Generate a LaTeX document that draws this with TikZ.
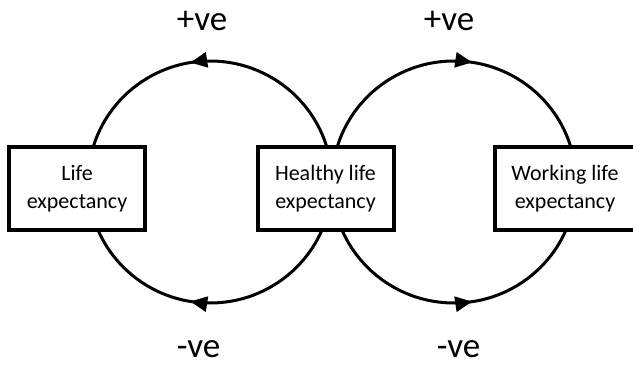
\documentclass[tikz,border=0pt]{standalone}
\usepackage{fontspec}
\setmainfont{Carlito}
\usetikzlibrary{arrows.meta,decorations.markings}
\tikzset{
  box/.style={draw, line width=4pt, fill=white, minimum width=136pt, minimum height=83pt,
    inner sep=0pt, align=center, font=\fontsize{22}{28}\selectfont},
  feedback/.style={line width=3pt},
  head/.tip={Triangle[length=17pt,width=15pt]},
  signlabel/.style={anchor=base, inner sep=0pt, text depth=0pt, font=\fontsize{35}{35}\selectfont},
}
\begin{document}
\begin{tikzpicture}[x=1pt,y=-1pt]
\useasboundingbox (0,0) rectangle (633,367);
\coordinate (lc) at (210,182);
\coordinate (rc) at (454,182);
% the two loops
\draw[feedback, postaction={decorate}, decoration={markings,
    mark=at position 0.276 with {\arrow{head}},
    mark=at position 0.724 with {\arrowreversed{head}}}]
  (lc) ellipse [x radius=122, y radius=121];
\draw[feedback, postaction={decorate}, decoration={markings,
    mark=at position 0.226 with {\arrowreversed{head}},
    mark=at position 0.774 with {\arrow{head}}}]
  (rc) ellipse [x radius=122, y radius=121];
% boxes
\node[box] (life) at (77,188.5) {Life\\expectancy};
\node[box] (healthy) at (325.5,188.5) {Healthy life\\expectancy};
\node[box, minimum width=140pt] (working) at (565,188.5) {Working life\\expectancy};
% signs
\node[signlabel] (lplus) at (202,30) {+ve};
\node[signlabel] (rplus) at (449,30) {+ve};
\node[signlabel] (lminus) at (198.5,357) {-ve};
\node[signlabel] (rminus) at (458.5,357) {-ve};
\end{tikzpicture}
\end{document}
